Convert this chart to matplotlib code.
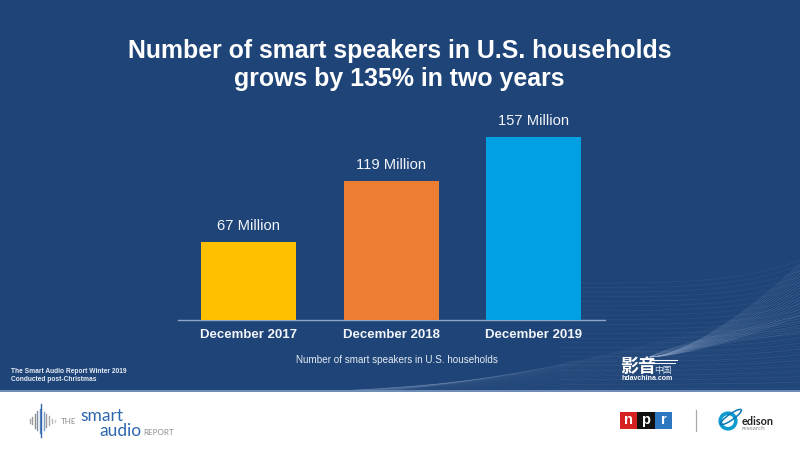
import numpy as np
import matplotlib
matplotlib.use("Agg")
import matplotlib.pyplot as plt
from matplotlib.patches import Rectangle, Ellipse, Circle

categories = ["December 2017", "December 2018", "December 2019"]
values = [67, 119, 157]
labels = ["67 Million", "119 Million", "157 Million"]
colors = ["#FFC000", "#ED7D31", "#00A0E3"]
title = "Number of smart speakers in U.S. households\ngrows by 135% in two years"
legend_text = "Number of smart speakers in U.S. households"
source = "The Smart Audio Report Winter 2019\nConducted post-Christmas"

BG = "#1F4477"
plt.rcParams["font.family"] = ["Liberation Sans", "DejaVu Sans"]
W, H = 800, 450
fig = plt.figure(figsize=(8, 4.5), dpi=100, facecolor="white")

# pixel-coordinate overlay for the slide furniture
bg = fig.add_axes([0, 0, 1, 1])
bg.set_xlim(0, W); bg.set_ylim(H, 0); bg.axis("off")
bg.add_patch(Rectangle((0, 0), W, 391, fc=BG, ec="none", zorder=0))

# faint decorative waves, lower right
t = np.linspace(0, 1, 80)
for k in range(18):
    bg.plot(650 + t * 150, 357 - t ** 1.5 * (42 + k * 3.0),
            color="#A9BEDD", lw=0.4, alpha=0.24, zorder=1)
for k in range(8):
    bg.plot(650 + t * 150, 357 - t ** 0.8 * (24 + k * 2.4),
            color="#A9BEDD", lw=0.4, alpha=0.2, zorder=1)
for k in range(24):
    bg.plot(560 + t * 240, 283 + k * 4.6 - t ** 4 * 23 * (1 - k / 24),
            color="#9DB4D6", lw=0.4, alpha=0.12, zorder=1)
for k in range(30):
    bg.plot(270 + t * 530, 392 + k * 0.2 - t ** (0.9 + k * 0.03) * (4 + k * 3.2),
            color="#9DB4D6", lw=0.4, alpha=0.09, zorder=1)

# white footer covers the wave ends
bg.add_patch(Rectangle((0, 391), W, 59, fc="white", ec="none", zorder=2))
bg.add_patch(Rectangle((0, 390.3), W, 1.4, fc="#6F8DB5", ec="none", zorder=2))

bg.text(399.5, 65, title, color="white", fontsize=17.9, fontweight="bold",
        ha="center", va="center", linespacing=1.17, zorder=3)
bg.text(396.5, 359.7, legend_text, color="#E6ECF5", fontsize=7.15, ha="center", va="center", zorder=3)
bg.text(11, 375.6, source, color="#E6ECF5", fontsize=4.8, fontweight="bold",
        ha="left", va="center", linespacing=1.3, zorder=3)

# chart
ax = fig.add_axes([178 / W, 1 - 319.5 / H, 427 / W, 219.5 / H])
ax.patch.set_alpha(0)
x = np.arange(len(values))
bars = ax.bar(x, values, width=0.667, color=colors, zorder=3)
ax.set_xlim(-0.495, 2.5)
ax.set_ylim(0, 219.5 / 1.162)
ax.set_yticks([])
ax.set_xticks(x, categories, color="#F2F5FA", fontsize=9.5, fontweight="bold")
ax.tick_params(axis="x", length=0, pad=7.2)
for s in ["top", "left", "right"]:
    ax.spines[s].set_visible(False)
ax.spines["bottom"].set_color("#8FA6C8")
ax.spines["bottom"].set_linewidth(1)
ax.bar_label(bars, labels=labels, padding=6.3, color="#F2F5FA", fontsize=10.6)

# 影音中国 watermark
bg.text(620, 367, "影音", color="white", fontsize=13, fontweight="bold", style="italic",
        family=["Noto Sans CJK SC"], ha="left", va="center", zorder=3)
bg.text(654.5, 370, "中国", color="#D6E0EE", fontsize=6.3,
        family=["Noto Sans CJK SC"], ha="left", va="center", zorder=3)
bg.text(621, 378.3, "hdavchina.com", color="white", fontsize=5.0, fontweight="bold",
        ha="left", va="center", zorder=3)
bg.plot([650, 677], [359.5, 359.5], color="white", lw=0.8, zorder=3)
bg.plot([652, 675], [363, 363], color="white", lw=0.7, zorder=3)

# smart audio logo
wave_x = [30, 32, 34.5, 37, 39.5, 41, 44, 46, 49, 52, 55]
wave_h = [4, 7, 14, 19, 24, 33, 18, 13, 9, 4, 2]
wave_c = ["#A8A8A8", "#9A9A9A", "#8C8C8C", "#7E8FA8", "#5F86BC", "#2F68AE",
          "#7E9CC4", "#9A9A9A", "#A8A8A8", "#B8B8B8", "#C8C8C8"]
for wx, wh, wc in zip(wave_x, wave_h, wave_c):
    bg.plot([wx, wx], [420.5 - wh / 2, 420.5 + wh / 2], color=wc, lw=1.0, zorder=3)
bg.text(61, 421, "THE", color="#8C8C8C", fontsize=5.8, ha="left", va="center", family="Lato", zorder=3)
bg.text(80, 416.3, "smart", color="#2E67AD", fontsize=12.5, ha="left", va="center", family="Lato", zorder=3)
bg.text(99.5, 430.7, "audio", color="#2E67AD", fontsize=12.5, ha="left", va="center", family="Lato", zorder=3)
bg.text(143, 432.5, "REPORT", color="#8C8C8C", fontsize=5.8, ha="left", va="center", family="Lato", zorder=3)

# npr logo
for i, (c, ch) in enumerate(zip(["#D62021", "#111111", "#2C77BF"], "npr")):
    bg.add_patch(Rectangle((620 + i * 17.4, 412), 17.2, 17.4, fc=c, ec="none", zorder=3))
    bg.text(620 + i * 17.4 + 8.6, 420.2, ch, color="white", fontsize=10.5, fontweight="bold",
            ha="center", va="center", zorder=4)
bg.plot([695.5, 695.5], [410, 431], color="#AAAAAA", lw=0.9, zorder=3)

# edison logo
bg.add_patch(Circle((728, 421), 7.8, fc="none", ec="#0E9BD0", lw=2.6, zorder=3))
bg.add_patch(Ellipse((731, 417), 25, 6, angle=-35, fc="none", ec="#0E77B4", lw=1.1, zorder=3))
bg.text(741.5, 421.7, "edison", color="#222222", fontsize=7.8, fontweight="bold",
        ha="left", va="center", family="Lato", zorder=3)
bg.text(741.5, 428.3, "research", color="#888888", fontsize=4.5,
        ha="left", va="center", family="Lato", zorder=3)

fig.savefig("out.png", dpi=100, facecolor="white")
